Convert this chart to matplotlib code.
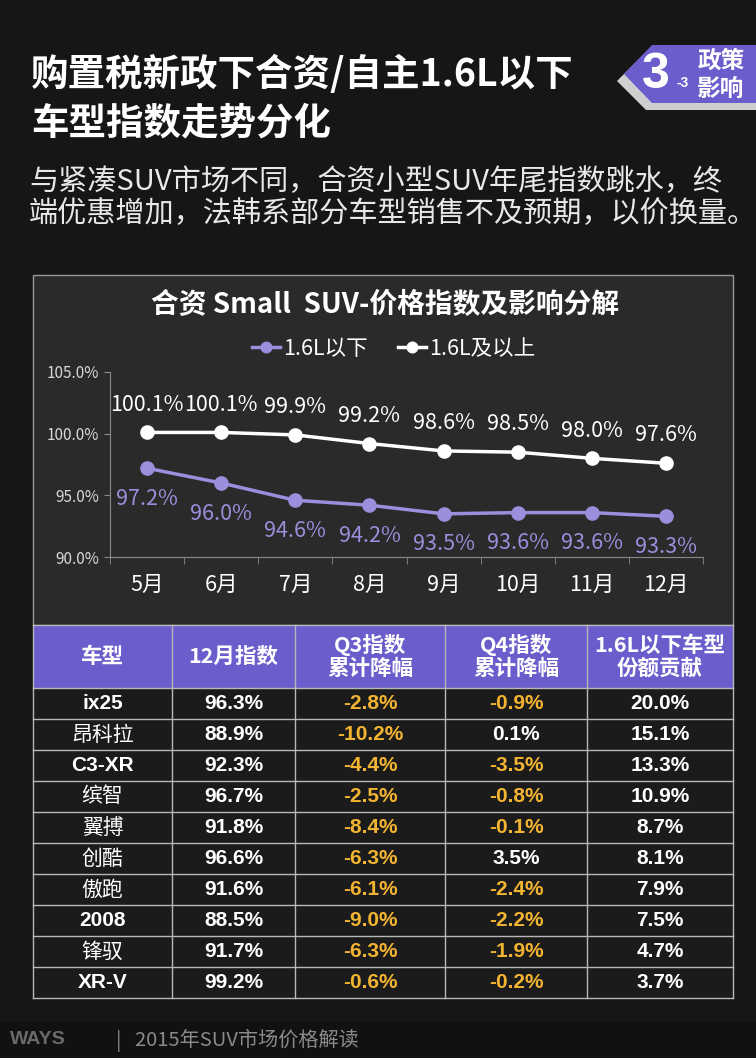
import matplotlib
matplotlib.use('Agg')
from matplotlib import pyplot as plt
from matplotlib.patches import Rectangle, Polygon
import numpy as np

plt.rcParams['font.family'] = ['Noto Sans CJK SC', 'DejaVu Sans']

# chart data
months = ['5月', '6月', '7月', '8月', '9月', '10月', '11月', '12月']
below_16 = [97.2, 96.0, 94.6, 94.2, 93.5, 93.6, 93.6, 93.3]
above_16 = [100.1, 100.1, 99.9, 99.2, 98.6, 98.5, 98.0, 97.6]
y_ticks = [90, 95, 100, 105]

# table data
headers = ['车型', '12月指数', 'Q3指数\n累计降幅', 'Q4指数\n累计降幅', '1.6L以下车型\n份额贡献']
models = ['ix25', '昂科拉', 'C3-XR', '缤智', '翼搏', '创酷', '傲跑', '2008', '锋驭', 'XR-V']
dec_index = [96.3, 88.9, 92.3, 96.7, 91.8, 96.6, 91.6, 88.5, 91.7, 99.2]
q3_drop = [-2.8, -10.2, -4.4, -2.5, -8.4, -6.3, -6.1, -9.0, -6.3, -0.6]
q4_drop = [-0.9, 0.1, -3.5, -0.8, -0.1, 3.5, -2.4, -2.2, -1.9, -0.2]
share = [20.0, 15.1, 13.3, 10.9, 8.7, 8.1, 7.9, 7.5, 4.7, 3.7]

W, H = 756, 1058
BG = '#161616'
PANEL = '#2a2a2a'
PURPLE = '#6b5dcc'
LINE_PURPLE = '#9a8fdc'
ORANGE = '#f2b431'

fig = plt.figure(figsize=(W / 100, H / 100), dpi=100, facecolor=BG)

# full-figure overlay in pixel coords
bg = fig.add_axes([0, 0, 1, 1], zorder=0)
bg.set_xlim(0, W)
bg.set_ylim(H, 0)
bg.axis('off')
bg.set_facecolor(BG)

# title
bg.text(31, 74, '购置税新政下合资/自主1.6L以下', color='white', fontsize=27,
        fontweight='heavy', va='center', ha='left')
bg.text(31, 123, '车型指数走势分化', color='white', fontsize=27,
        fontweight='heavy', va='center', ha='left')
bg.text(29, 182, '与紧凑SUV市场不同，合资小型SUV年尾指数跳水，终', color='#e8e8e8',
        fontsize=21, va='center', ha='left')
bg.text(29, 214, '端优惠增加，法韩系部分车型销售不及预期，以价换量。', color='#e8e8e8',
        fontsize=21, va='center', ha='left')

# badge
bg.add_patch(Polygon([(646, 52), (W, 52), (W, 110), (646, 110), (617, 81)],
                     closed=True, facecolor='#cfcfcf', edgecolor='none'))
bg.add_patch(Polygon([(652, 45), (W, 45), (W, 103), (652, 103), (624, 74)],
                     closed=True, facecolor=PURPLE, edgecolor='none'))
bg.text(656, 75, '3', color='white', fontsize=36, fontweight='bold',
        family=['Liberation Sans', 'DejaVu Sans'], va='center', ha='center')
bg.text(683, 83, '-3', color='white', fontsize=10, fontweight='bold',
        family=['Liberation Sans', 'DejaVu Sans'], va='center', ha='center')
bg.text(721, 61, '政策', color='white', fontsize=17, fontweight='bold', va='center', ha='center')
bg.text(721, 89, '影响', color='white', fontsize=17, fontweight='bold', va='center', ha='center')

# chart panel
bg.add_patch(Rectangle((33, 275), 700, 350, facecolor=PANEL, edgecolor='#9a9a9a', lw=1))
bg.text(385, 305, '合资 Small  SUV-价格指数及影响分解', color='white', fontsize=20,
        fontweight='bold', va='center', ha='center')

# line chart
x0, x1, ytop, ybot = 110, 703, 372, 557
ax = fig.add_axes([x0 / W, 1 - ybot / H, (x1 - x0) / W, (ybot - ytop) / H], zorder=2)
ax.set_facecolor('none')
x = np.arange(len(months))
ax.plot(x, above_16, color='white', lw=2.5, marker='o', ms=9.5, label='1.6L及以上', zorder=3)
ax.plot(x, below_16, color=LINE_PURPLE, lw=2.5, marker='o', ms=9.5, label='1.6L以下', zorder=3)
for xi, v in zip(x, above_16):
    ax.annotate(f'{v:.1f}%', (xi, v), xytext=(0, 20), textcoords='offset points',
                ha='center', va='center', color='white', fontsize=15.5)
for xi, v in zip(x, below_16):
    ax.annotate(f'{v:.1f}%', (xi, v), xytext=(0, -22), textcoords='offset points',
                ha='center', va='center', color=LINE_PURPLE, fontsize=15.5)
ax.set_xlim(-0.5, len(months) - 0.5)
ax.set_ylim(90, 105)
ax.set_yticks(y_ticks)
ax.set_yticklabels([f'{t:.1f}%' for t in y_ticks])
ax.set_xticks(x)
ax.set_xticklabels(months)
ax.set_xticks(np.arange(-0.5, len(months)), minor=True)
ax.tick_params(axis='x', which='major', length=0, pad=12, labelsize=15.5, labelcolor='white')
ax.tick_params(axis='x', which='minor', length=5, color='#8a8a8a')
ax.tick_params(axis='y', length=4, color='#8a8a8a', labelsize=11, labelcolor='#d8d8d8', pad=4)
for s in ['top', 'right']:
    ax.spines[s].set_visible(False)
for s in ['left', 'bottom']:
    ax.spines[s].set_color('#8a8a8a')

handles, labels = ax.get_legend_handles_labels()
fig.legend(handles[::-1], labels[::-1], loc='center', bbox_to_anchor=(394 / W, 1 - 349 / H),
           ncol=2, frameon=False, fontsize=15.5, labelcolor='white', handlelength=1.3,
           handletextpad=0.15, columnspacing=1.4, markerscale=0.8)

# table
col_edges = [33, 172, 295, 445, 587, 733]
head_top, head_bot = 625, 688
row_h = 31
bg.add_patch(Rectangle((33, head_top), 700, head_bot - head_top, facecolor=PURPLE,
                       edgecolor='none', zorder=1))
n = len(models)
bg.add_patch(Rectangle((33, head_bot), 700, n * row_h, facecolor='#1b1b1b',
                       edgecolor='none', zorder=1))
grid_c = '#b8b8b8'
for xe in col_edges:
    bg.plot([xe, xe], [head_top, head_bot + n * row_h], color=grid_c, lw=1, zorder=2)
for i in range(n + 1):
    yy = head_bot + i * row_h
    bg.plot([33, 733], [yy, yy], color=grid_c, lw=1, zorder=2)
bg.plot([33, 733], [head_top, head_top], color=grid_c, lw=1, zorder=2)

centers = [(col_edges[i] + col_edges[i + 1]) / 2 for i in range(5)]
for c, h in zip(centers, headers):
    bg.text(c, (head_top + head_bot) / 2, h, color='white', fontsize=15.5, fontweight='bold',
            ha='center', va='center', linespacing=1.1, zorder=3)

num_font = ['Liberation Sans', 'Noto Sans CJK SC']
for i in range(n):
    yc = head_bot + (i + 0.5) * row_h
    m = models[i]
    bold = m.isascii()
    bg.text(centers[0], yc, m, color='white', fontsize=15,
            fontweight='bold' if bold else 'normal',
            family=num_font if bold else ['Noto Sans CJK SC'], ha='center', va='center', zorder=3)
    bg.text(centers[1], yc, f'{dec_index[i]:.1f}%', color='white', fontsize=15,
            fontweight='bold', family=num_font, ha='center', va='center', zorder=3)
    for c, v in [(centers[2], q3_drop[i]), (centers[3], q4_drop[i])]:
        bg.text(c, yc, f'{v:.1f}%', color=ORANGE if v < 0 else 'white', fontsize=15,
                fontweight='bold', family=num_font, ha='center', va='center', zorder=3)
    bg.text(centers[4], yc, f'{share[i]:.1f}%', color='white', fontsize=15,
            fontweight='bold', family=num_font, ha='center', va='center', zorder=3)

# footer
bg.add_patch(Rectangle((0, 1022), W, H - 1022, facecolor='#111111', edgecolor='none'))
bg.text(10, 1040, 'WAYS', color='#6a6a6a', fontsize=14, fontweight='bold',
        family=num_font, va='center', ha='left')
bg.text(116, 1040, '|   2015年SUV市场价格解读', color='#8a8a8a', fontsize=14.5,
        va='center', ha='left')

fig.savefig('out.png', dpi=100, facecolor=BG)
